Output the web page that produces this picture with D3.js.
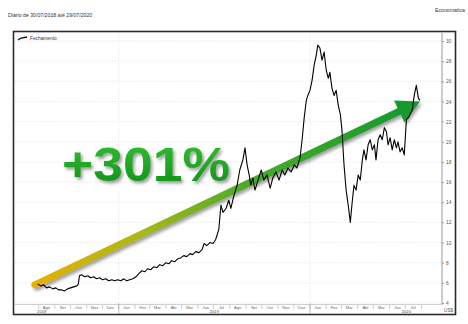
<!DOCTYPE html>
<html><head><meta charset="utf-8">
<script src="https://cdn.jsdelivr.net/npm/d3@7"></script>
<style>html,body{margin:0;padding:0;background:#fff;}svg{display:block;font-family:"Liberation Sans",Arial,sans-serif;}</style>
</head><body>
<svg id="chart" width="468" height="324"></svg>
<script>
const titleText = "Diário de 30/07/2018 até 29/07/2020";
const sourceText = "Economatica";
const seriesName = "Fechamento";
const currencyText = "US$";
const gainText = "+301%";
const monthNames = ["Jan","Fev","Mar","Abr","Mai","Jun","Jul","Ago","Set","Out","Nov","Dez"];
const yTicks = [4,6,8,10,12,14,16,18,20,22,24,26,28,30];
const xDomain = ["2018-06-17","2020-09-09"];
const yDomain = [4,30];
const yearLabels = [["2018","2018-08-07"],["2019","2019-07-02"],["2020","2020-07-03"]];
const yearBounds = ["2019-01-01","2020-01-01"];
const arrowFrom = ["2018-07-25", 5.8];
const arrowTo = ["2020-07-29", 24.0];

const dates = ["2018-07-30","2018-08-05","2018-08-11","2018-08-16","2018-08-22","2018-08-28","2018-09-03","2018-09-08","2018-09-14","2018-09-20","2018-09-25","2018-10-01","2018-10-07","2018-10-13","2018-10-16","2018-10-18","2018-10-22","2018-10-28","2018-11-03","2018-11-08","2018-11-14","2018-11-20","2018-11-26","2018-12-01","2018-12-07","2018-12-13","2018-12-19","2018-12-24","2018-12-30","2019-01-05","2019-01-11","2019-01-16","2019-01-22","2019-01-28","2019-02-03","2019-02-08","2019-02-14","2019-02-20","2019-02-25","2019-03-03","2019-03-09","2019-03-15","2019-03-20","2019-03-26","2019-04-01","2019-04-07","2019-04-12","2019-04-18","2019-04-24","2019-04-30","2019-05-05","2019-05-11","2019-05-17","2019-05-22","2019-05-28","2019-06-03","2019-06-09","2019-06-13","2019-06-18","2019-06-24","2019-06-30","2019-07-05","2019-07-11","2019-07-15","2019-07-19","2019-07-25","2019-07-30","2019-08-03","2019-08-09","2019-08-15","2019-08-20","2019-08-26","2019-08-30","2019-09-03","2019-09-07","2019-09-10","2019-09-14","2019-09-18","2019-09-24","2019-09-30","2019-10-05","2019-10-11","2019-10-17","2019-10-22","2019-10-28","2019-11-03","2019-11-09","2019-11-14","2019-11-20","2019-11-26","2019-12-02","2019-12-07","2019-12-13","2019-12-17","2019-12-21","2019-12-25","2019-12-28","2020-01-01","2020-01-05","2020-01-09","2020-01-13","2020-01-16","2020-01-20","2020-01-24","2020-01-28","2020-02-01","2020-02-05","2020-02-08","2020-02-12","2020-02-16","2020-02-20","2020-02-24","2020-02-28","2020-03-02","2020-03-06","2020-03-10","2020-03-14","2020-03-18","2020-03-21","2020-03-25","2020-03-29","2020-04-02","2020-04-06","2020-04-10","2020-04-13","2020-04-17","2020-04-21","2020-04-25","2020-04-29","2020-05-03","2020-05-06","2020-05-10","2020-05-14","2020-05-18","2020-05-22","2020-05-26","2020-05-29","2020-06-02","2020-06-06","2020-06-10","2020-06-14","2020-06-17","2020-06-21","2020-06-25","2020-06-29","2020-07-03","2020-07-07","2020-07-10","2020-07-14","2020-07-18","2020-07-22","2020-07-26","2020-07-29"];
const closes = [5.9,5.7,5.8,5.5,5.6,5.4,5.5,5.3,5.3,5.2,5.4,5.5,5.6,5.7,5.9,6.7,6.8,6.6,6.7,6.5,6.6,6.4,6.5,6.3,6.4,6.2,6.3,6.2,6.3,6.2,6.4,6.2,6.3,6.4,6.6,6.9,7.2,7.1,7.4,7.3,7.6,7.5,7.8,7.7,8.0,7.9,8.2,8.1,8.4,8.5,8.7,8.6,8.9,8.8,9.1,9.0,9.3,9.9,9.7,10.0,9.9,10.3,11.3,13.7,13.0,13.4,14.2,13.4,14.7,15.7,17.2,18.2,19.4,17.7,16.7,15.7,16.4,15.2,16.2,17.2,16.2,16.7,15.4,16.4,17.0,16.2,17.2,16.7,17.4,17.0,17.7,17.4,18.4,20.2,22.4,24.1,24.6,25.1,26.1,27.6,28.6,29.6,29.3,28.1,28.9,27.1,26.3,26.9,25.3,24.6,25.1,23.6,22.7,21.2,17.7,15.2,13.7,12.0,13.7,15.7,15.2,16.7,16.2,18.2,19.2,18.2,19.7,20.2,19.2,19.7,18.2,20.2,20.7,20.2,21.4,21.0,19.7,20.4,19.2,20.2,19.4,20.0,19.0,19.4,18.7,22.2,22.4,22.7,23.1,24.6,25.6,24.3,24.1];

const parse = d3.utcParse("%Y-%m-%d");
const data = dates.map((d,i)=>({date:parse(d), value:closes[i]}));

const svg = d3.select("#chart");
const W = 468, H = 324;
const plot = {left:15, right:442, top:41, bottom:303};

const x = d3.scaleUtc().domain(xDomain.map(parse)).range([plot.left, plot.right]);
const y = d3.scaleLinear().domain(yDomain).range([plot.bottom, plot.top]);

const defs = svg.append("defs");
const sh = defs.append("filter").attr("id","shadow").attr("x","-20%").attr("y","-20%").attr("width","140%").attr("height","160%");
sh.append("feDropShadow").attr("dx",2).attr("dy",2.5).attr("stdDeviation",1.6).attr("flood-color","#555").attr("flood-opacity",0.55);

// title / source
svg.append("text").attr("x",8).attr("y",17).attr("font-size",5.2).attr("fill","#333").text(titleText);
svg.append("text").attr("x",465).attr("y",12).attr("text-anchor","end").attr("font-size",5.2).attr("fill","#333").text(sourceText);

// frame
svg.append("rect").attr("x",13.5).attr("y",31.5).attr("width",442).attr("height",283)
  .attr("fill","#fff").attr("stroke","#2a2a2a").attr("stroke-width",1.6);

// horizontal gridlines
svg.append("g").selectAll("line").data(yTicks).join("line")
  .attr("x1",plot.left).attr("x2",plot.right).attr("y1",d=>y(d)).attr("y2",d=>y(d))
  .attr("stroke","#d4d4d4").attr("stroke-width",0.6).attr("stroke-dasharray","1,1.5");
// vertical year gridlines
svg.append("g").selectAll("line").data(yearBounds).join("line")
  .attr("x1",d=>x(parse(d))).attr("x2",d=>x(parse(d))).attr("y1",33).attr("y2",plot.bottom)
  .attr("stroke","#d4d4d4").attr("stroke-width",0.6).attr("stroke-dasharray","1,1.5");

// right axis
const yAxis = d3.axisRight(y).tickValues(yTicks).tickSize(2).tickPadding(2);
const ga = svg.append("g").attr("transform",`translate(${plot.right},0)`).call(yAxis);
ga.select(".domain").attr("stroke","#9a9a9a").attr("d",`M0,33V${plot.bottom+1}`);
ga.selectAll(".tick line").attr("stroke","#9a9a9a");
ga.selectAll("text").attr("font-size",4.8).attr("fill","#555").attr("font-family","Liberation Sans, Arial, sans-serif");

// x axis baseline
svg.append("line").attr("x1",plot.left).attr("x2",plot.right+1).attr("y1",plot.bottom+1.5).attr("y2",plot.bottom+1.5)
  .attr("stroke","#b0b0b0").attr("stroke-width",0.6);
// month labels
const months = d3.utcMonth.range(parse("2018-08-01"), parse("2020-08-01"));
const gx = svg.append("g");
gx.selectAll("line.mt").data(months.concat([parse("2020-08-01")])).join("line").attr("class","mt")
  .attr("x1",d=>x(d)).attr("x2",d=>x(d)).attr("y1",305).attr("y2",309)
  .attr("stroke","#999").attr("stroke-width",0.5);
gx.selectAll("text.ml").data(months).join("text").attr("class","ml")
  .attr("x",d=>x(d3.utcDay.offset(d,15))).attr("y",308.5).attr("text-anchor","middle")
  .attr("font-size",4).attr("fill","#666").text(d=>monthNames[d.getUTCMonth()]);
gx.selectAll("line.yb").data(yearBounds).join("line").attr("class","yb")
  .attr("x1",d=>x(parse(d))).attr("x2",d=>x(parse(d))).attr("y1",plot.bottom).attr("y2",314)
  .attr("stroke","#999").attr("stroke-width",0.6);
gx.selectAll("text.yl").data(yearLabels).join("text").attr("class","yl")
  .attr("x",d=>x(parse(d[1]))).attr("y",313).attr("text-anchor","middle")
  .attr("font-size",4.2).attr("fill","#555").text(d=>d[0]);
svg.append("text").attr("x",453).attr("y",312).attr("text-anchor","end").attr("font-size",4.6).attr("fill","#555").text(currencyText);

// legend
svg.append("path").attr("d","M18,40 L21,38 L27,37").attr("fill","none").attr("stroke","#111").attr("stroke-width",1.3);
svg.append("text").attr("x",30).attr("y",40).attr("font-size",4.8).attr("fill","#333").text(seriesName);

// arrow
const ax0 = x(parse(arrowFrom[0])), ay0 = y(arrowFrom[1]);
const ax1 = x(parse(arrowTo[0])), ay1 = y(arrowTo[1]);
const len = Math.hypot(ax1-ax0, ay1-ay0);
const ux = (ax1-ax0)/len, uy = (ay1-ay0)/len, px = -uy, py = ux;
const headL = 23, headW = 12;
const bx = ax1 - ux*headL, by = ay1 - uy*headL;
const grad = defs.append("linearGradient").attr("id","arrowGrad").attr("gradientUnits","userSpaceOnUse")
  .attr("x1",ax0).attr("y1",ay0).attr("x2",ax1).attr("y2",ay1);
[[0,"#e6b000"],[0.28,"#a8b81a"],[0.55,"#4aab28"],[1,"#12992e"]].forEach(s=>grad.append("stop").attr("offset",s[0]).attr("stop-color",s[1]));
const ag = svg.append("g").attr("filter","url(#shadow)");
ag.append("line").attr("x1",ax0).attr("y1",ay0).attr("x2",bx+ux*2).attr("y2",by+uy*2)
  .attr("stroke","url(#arrowGrad)").attr("stroke-width",7).attr("stroke-linecap","round");
ag.append("path").attr("d",`M${ax1},${ay1}L${bx+px*headW},${by+py*headW}L${bx-px*headW},${by-py*headW}Z`).attr("fill","#12992e");

// price line
const line = d3.line().x(d=>x(d.date)).y(d=>y(d.value));
svg.append("path").datum(data).attr("d",line).attr("fill","none").attr("stroke","#000").attr("stroke-width",1.1).attr("stroke-linejoin","round");

// gain text
const tg = defs.append("linearGradient").attr("id","txtGrad").attr("x1",0).attr("y1",0).attr("x2",0).attr("y2",1);
tg.append("stop").attr("offset",0).attr("stop-color","#36c236");
tg.append("stop").attr("offset",1).attr("stop-color","#0e8e14");
svg.append("text").attr("x",62).attr("y",181).attr("font-size",49).attr("font-weight","bold")
  .attr("font-family","Liberation Sans, Arial, sans-serif")
  .attr("textLength",168).attr("lengthAdjust","spacingAndGlyphs")
  .attr("fill","url(#txtGrad)").attr("filter","url(#shadow)").text(gainText);
</script>
</body></html>
